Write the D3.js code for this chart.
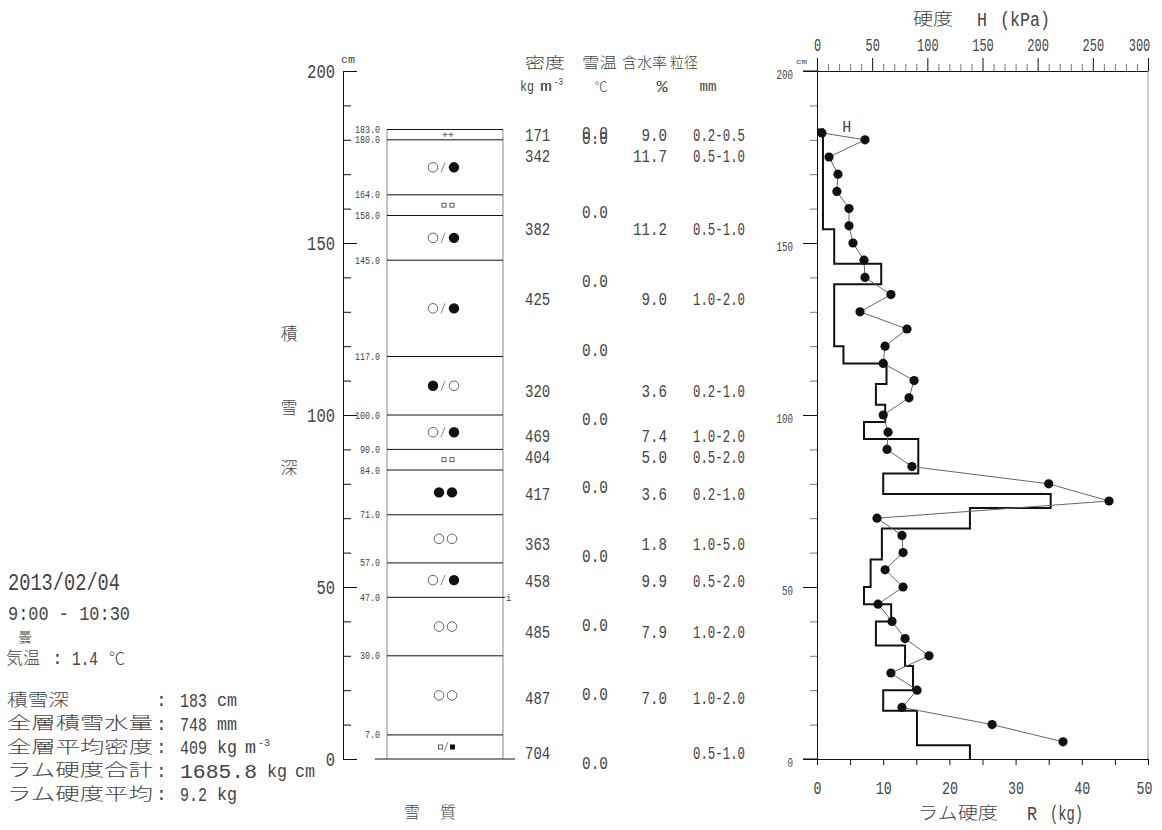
<!DOCTYPE html>
<html>
<head>
<meta charset="utf-8">
<script src="https://cdn.jsdelivr.net/npm/d3@7"></script>
<style>
  html, body { margin: 0; padding: 0; background: #fff; }
  svg { display: block; }
</style>
</head>
<body>
<svg id="chart" width="1162" height="830"></svg>
<script>
// layer boundaries (cm) and grain shape symbols, top to bottom
const layerBounds = [183, 180, 164, 158, 145, 117, 100, 90, 84, 71, 57, 47, 30, 7, 0]
const grainShapes = ["++", "○/●", "□□", "○/●", "○/●", "●/○", "○/●", "□□", "●●", "○○", "○/●", "○○", "○○", "□/■"]

// density / water content / grain size rows
const sampleH = [181.5, 175.6, 154.4, 134, 107.3, 94, 88, 77.3, 62.8, 52, 37, 18, 2]
const density = ["171", "342", "382", "425", "320", "469", "404", "417", "363", "458", "485", "487", "704"]
const waterContent = ["9.0", "11.7", "11.2", "9.0", "3.6", "7.4", "5.0", "3.6", "1.8", "9.9", "7.9", "7.0", ""]
const grainSize = ["0.2-0.5", "0.5-1.0", "0.5-1.0", "1.0-2.0", "0.2-1.0", "1.0-2.0", "0.5-2.0", "0.2-1.0", "1.0-5.0", "0.5-2.0", "1.0-2.0", "1.0-2.0", "0.5-1.0"]

// snow temperature
const tempH = [183, 181.5, 160, 140, 120, 100, 80, 60, 40, 20, 0]
const temps = ["0.0", "0.0", "0.0", "0.0", "0.0", "0.0", "0.0", "0.0", "0.0", "0.0", "0.0"]

// ram hardness R (kg): top of each segment (cm) and value
const ramTop = [183, 154, 144, 138, 120, 115, 109, 103, 98, 93, 83, 77, 73, 67, 58, 50, 45, 40, 33, 27, 20, 14, 4]
const ramR = [0.9, 2.6, 9.7, 2.6, 4.0, 10.5, 8.9, 10.3, 7.1, 15.3, 10.0, 35.3, 23.1, 9.8, 8.1, 7.1, 11.2, 8.9, 13.3, 14.5, 10.0, 15.1, 23.1]

// push hardness H (kPa)
const hardH = [182, 180, 175, 170, 165, 160, 155, 150, 145, 140, 135, 130, 125, 120, 115, 110, 105, 100, 95, 90, 85, 80, 75, 70, 65, 60, 55, 50, 45, 40, 35, 30, 25, 20, 15, 10, 5]
const hardness = [4.5, 43.5, 10.9, 19, 18, 29, 29, 32.6, 42.6, 43.5, 67, 39, 81.6, 61.7, 60, 88, 83.4, 60, 64.4, 63.5, 86, 210, 264.7, 54.4, 77, 78, 61.7, 78, 55.3, 68, 79.8, 101.5, 67, 90.7, 77, 158.7, 223]

// header info
const obsDate = "2013/02/04"
const obsTime = "9:00 - 10:30"
const weather = "曇"
const airTemp = "1.4"
const summaryLabels = ["積雪深", "全層積雪水量", "全層平均密度", "ラム硬度合計", "ラム硬度平均"]
const summaryValues = ["183", "748", "409", "1685.8", "9.2"]

const JP = "'Noto Sans CJK JP', sans-serif"
const MONO = "'Liberation Mono', monospace"
const INK = "#444"

const svg = d3.select("#chart")

const y = d3.scaleLinear().domain([0, 200]).range([759, 71])
const xR = d3.scaleLinear().domain([0, 50]).range([817, 1148])
const xH = d3.scaleLinear().domain([0, 300]).range([817, 1148])

function txt(g, x, yy, s, o = {}) {
  const t = g.append("text")
    .attr("x", x)
    .attr("y", yy)
    .attr("dy", o.dy || "0.35em")
    .attr("font-family", o.jp ? JP : MONO)
    .attr("font-weight", o.jp ? 300 : 400)
    .attr("font-size", o.size || 16)
    .attr("text-anchor", o.anchor || "start")
    .attr("fill", o.fill || INK)
    .text(s)
  if (o.w) t.attr("textLength", o.w).attr("lengthAdjust", "spacingAndGlyphs")
  return t
}

function hline(x1, x2, yy, color, w) {
  svg.append("line").attr("x1", x1).attr("x2", x2).attr("y1", yy).attr("y2", yy)
    .attr("stroke", color || "#111").attr("stroke-width", w || 1)
}
function vline(x, y1, y2, color, w) {
  svg.append("line").attr("x1", x).attr("x2", x).attr("y1", y1).attr("y2", y2)
    .attr("stroke", color || "#111").attr("stroke-width", w || 1)
}

//-- depth axis (left)
const majors = [0, 50, 100, 150, 200]
const minors = d3.range(0, 201, 10).filter((v) => v % 50)

svg.append("g").attr("transform", "translate(343,0)")
  .call(d3.axisRight(y).tickValues(minors).tickSize(8).tickSizeOuter(0).tickFormat(""))
svg.append("g").attr("transform", "translate(343,0)")
  .call(d3.axisRight(y).tickValues(majors).tickSize(14).tickSizeOuter(0).tickFormat(""))
svg.selectAll(".tick line, .domain").attr("stroke", "#111")

majors.forEach((v) => {
  txt(svg, 335, y(v), String(v), { anchor: "end", size: 20, w: String(v).length * 9.3 })
})
txt(svg, 341, 59, "cm", { size: 11, w: 14 })

txt(svg, 289, 334, "積", { jp: true, size: 17, anchor: "middle" })
txt(svg, 289, 408, "雪", { jp: true, size: 17, anchor: "middle" })
txt(svg, 289, 468, "深", { jp: true, size: 17, anchor: "middle" })

//-- layer column
const colL = 387, colR = 503, colC = 445

vline(colL, y(183), y(0), "#888")
vline(colR, y(183), y(0), "#888")
layerBounds.slice(0, -1).forEach((b) => {
  hline(colL, b === 47 ? 505 : colR, y(b), "#111")
  txt(svg, 380, y(b), b.toFixed(1), { anchor: "end", size: 10, w: b.toFixed(1).length * 5 })
})
hline(375, 515, y(0), "#111")
txt(svg, 506, y(47) + 1, "i", { size: 9 })

// grain shape glyph layouts (dx from column centre)
const glyphLayout = {
  "++": [["+", 0], ["+", 6]],
  "○/●": [["o", -12], ["/", -2], ["f", 9]],
  "●/○": [["f", -12], ["/", -2], ["o", 9]],
  "○○": [["o", -6], ["o", 7]],
  "●●": [["f", -6], ["f", 7]],
  "□□": [["s", -1], ["s", 7]],
  "□/■": [["s", -4.5], ["/", 1], ["S", 7.5]],
}

function drawGrain(cx, cy, code) {
  const g = svg.append("g")
  glyphLayout[code].forEach(([k, dx]) => {
    const x = cx + dx
    if (k === "o") g.append("circle").attr("cx", x).attr("cy", cy).attr("r", 4.8)
      .attr("fill", "none").attr("stroke", "#555").attr("stroke-width", 0.9)
    if (k === "f") g.append("circle").attr("cx", x).attr("cy", cy).attr("r", 5.2).attr("fill", "#111")
    if (k === "s") g.append("rect").attr("x", x - 2).attr("y", cy - 2).attr("width", 4).attr("height", 4)
      .attr("fill", "none").attr("stroke", "#333").attr("stroke-width", 0.8)
    if (k === "S") g.append("rect").attr("x", x - 2.5).attr("y", cy - 2.5).attr("width", 5).attr("height", 5).attr("fill", "#111")
    if (k === "/") g.append("line").attr("x1", x - 2).attr("y1", cy + 5).attr("x2", x + 2).attr("y2", cy - 5)
      .attr("stroke", "#666").attr("stroke-width", 0.8)
    if (k === "+") {
      g.append("line").attr("x1", x - 2.5).attr("x2", x + 2.5).attr("y1", cy).attr("y2", cy).attr("stroke", "#444").attr("stroke-width", 0.8)
      g.append("line").attr("x1", x).attr("x2", x).attr("y1", cy - 2.5).attr("y2", cy + 2.5).attr("stroke", "#444").attr("stroke-width", 0.8)
    }
  })
}

grainShapes.forEach((code, i) => {
  const mid = (layerBounds[i] + layerBounds[i + 1]) / 2
  drawGrain(colC, y(mid), code)
})

txt(svg, 412, 812, "雪", { jp: true, size: 16, anchor: "middle" })
txt(svg, 448, 812, "質", { jp: true, size: 16, anchor: "middle" })

//-- data columns
txt(svg, 525, 63, "密度", { jp: true, size: 15, w: 40 })
txt(svg, 582, 63, "雪温", { jp: true, size: 15, w: 35 })
txt(svg, 622, 63, "含水率", { jp: true, size: 15, w: 45 })
txt(svg, 670, 63, "粒径", { jp: true, size: 15, w: 28 })

txt(svg, 520, 86, "kg", { size: 15, w: 14 })
txt(svg, 540, 86, "m", { size: 15, w: 12 })
txt(svg, 554, 81, "-3", { size: 10, w: 9 })
txt(svg, 601, 86, "℃", { jp: true, size: 13, anchor: "middle" })
txt(svg, 662, 86, "%", { size: 16, anchor: "middle", w: 11 })
txt(svg, 708, 86, "mm", { size: 14, anchor: "middle", w: 17 })

density.forEach((d, i) => {
  const yy = y(sampleH[i])
  txt(svg, 525, yy, d, { size: 19, w: d.length * 8.4 })
  if (waterContent[i]) txt(svg, 667, yy, waterContent[i], { size: 19, anchor: "end", w: waterContent[i].length * 8.5 })
  txt(svg, 693, yy, grainSize[i], { size: 19, w: 52 })
})
temps.forEach((t, i) => {
  txt(svg, 595, y(tempH[i]) + 3, t, { size: 19, anchor: "middle", w: 26 })
})

//-- hardness chart (right)
// left depth axis
svg.append("g").attr("transform", "translate(817,0)")
  .call(d3.axisLeft(y).tickValues(minors).tickSize(7).tickSizeOuter(0).tickFormat(""))
  .call((g) => g.select(".domain").remove())
  .selectAll(".tick line").attr("stroke", "#777")
svg.append("g").attr("transform", "translate(817,0)")
  .call(d3.axisLeft(y).tickValues(majors).tickSize(14).tickSizeOuter(0).tickPadding(10))
  .call((g) => g.selectAll(".tick line, .domain").attr("stroke", "#111"))
  .call((g) => g.selectAll("text")
    .attr("dy", "0.6em")
    .attr("font-family", MONO).attr("font-size", 13).attr("fill", INK)
    .attr("textLength", (d) => String(d).length * 5.5).attr("lengthAdjust", "spacingAndGlyphs"))
txt(svg, 796, 61, "cm", { size: 8, w: 11 })

// top H axis
svg.append("g").attr("transform", "translate(0,71)")
  .call(d3.axisTop(xH).tickValues(d3.range(0, 301, 10).filter((v) => v % 50)).tickSize(7).tickSizeOuter(0).tickFormat(""))
  .call((g) => g.select(".domain").remove())
  .selectAll(".tick line").attr("stroke", "#777")
svg.append("g").attr("transform", "translate(0,71)")
  .call(d3.axisTop(xH).tickValues(d3.range(0, 301, 50)).tickSize(13).tickSizeOuter(0).tickPadding(7))
  .call((g) => g.selectAll(".tick line, .domain").attr("stroke", "#111"))
  .call((g) => g.selectAll("text")
    .attr("dx", (d) => (d === 300 ? -9 : 0))
    .attr("font-family", MONO).attr("font-size", 18).attr("fill", INK)
    .attr("textLength", (d) => String(d).length * 7.2).attr("lengthAdjust", "spacingAndGlyphs"))

// bottom R axis
svg.append("g").attr("transform", "translate(0,759)")
  .call(d3.axisBottom(xR).tickValues(d3.range(0, 51, 5)).tickSize(6).tickSizeOuter(0).tickPadding(16)
    .tickFormat((d) => (d % 10 === 0 ? d : "")))
  .call((g) => g.selectAll(".tick line, .domain").attr("stroke", "#111"))
  .call((g) => g.selectAll("text")
    .attr("dx", (d) => (d === 50 ? -4 : 0))
    .attr("font-family", MONO).attr("font-size", 18).attr("fill", INK)
    .attr("textLength", (d) => (d % 10 === 0 ? String(d).length * 8 : null)).attr("lengthAdjust", "spacingAndGlyphs"))

hline(803, 817, y(200), "#111")
hline(803, 817, y(0), "#111")
vline(xR(50), y(200), y(0), "#999")

// ram hardness step profile
const ramPts = [[0, ramTop[0]]]
ramTop.forEach((t, i) => {
  const bottom = i < ramTop.length - 1 ? ramTop[i + 1] : 0
  ramPts.push([ramR[i], t], [ramR[i], bottom])
})
svg.append("path")
  .attr("d", d3.line().x((d) => xR(d[0])).y((d) => y(d[1]))(ramPts))
  .attr("fill", "none").attr("stroke", "#111").attr("stroke-width", 2)

// push hardness
const hPts = hardness.map((v, i) => [v, hardH[i]])
svg.append("path")
  .attr("d", d3.line().x((d) => xH(d[0])).y((d) => y(d[1]))(hPts))
  .attr("fill", "none").attr("stroke", "#666").attr("stroke-width", 1)
svg.append("g").selectAll("circle").data(hPts).join("circle")
  .attr("cx", (d) => xH(d[0])).attr("cy", (d) => y(d[1])).attr("r", 4.6).attr("fill", "#111")

txt(svg, xH(27), y(184), "H", { size: 16, anchor: "middle", w: 9 })

// titles
txt(svg, 913, 19, "硬度", { jp: true, size: 17, w: 40 })
txt(svg, 977, 19, "H", { size: 20, w: 10 })
txt(svg, 1000, 19, "(kPa)", { size: 20, w: 50 })
txt(svg, 918, 813, "ラム硬度", { jp: true, size: 17, w: 80 })
txt(svg, 1027, 813, "R", { size: 20, w: 10 })
txt(svg, 1050, 813, "(kg)", { size: 20, w: 33 })

//-- observation info (bottom left)
txt(svg, 8, 582, obsDate, { size: 24, w: 112 })
txt(svg, 8, 613, obsTime, { size: 20, w: 122 })
txt(svg, 25, 637, weather, { jp: true, size: 14, anchor: "middle" })
txt(svg, 6, 658, "気温", { jp: true, size: 17, w: 34 })
txt(svg, 52, 658, ":", { size: 18 })
txt(svg, 72, 658, airTemp, { size: 21, w: 26 })
txt(svg, 109, 658, "℃", { jp: true, size: 16 })

const unitRows = [["cm"], ["mm"], ["kg", "m"], ["kg", "cm"], ["kg"]]
summaryLabels.forEach((lab, i) => {
  const yy = 700 + i * 23.4
  txt(svg, 7, yy, lab, { jp: true, size: 17, w: lab.length === 3 ? 62 : 146 })
  txt(svg, 156, yy, ":", { size: 18 })
  const v = summaryValues[i]
  const vw = v.length === 6 ? 77 : 27
  txt(svg, 180, yy, v, { size: 21, w: vw })
  let ux = 180 + vw + 10
  unitRows[i].forEach((u) => {
    txt(svg, ux, yy, u, { size: 18, w: u.length === 1 ? 11 : 20 })
    ux += 28
  })
  if (i === 2) txt(svg, ux - 15, yy - 5, "-3", { size: 11, w: 12 })
})
</script>
</body>
</html>
